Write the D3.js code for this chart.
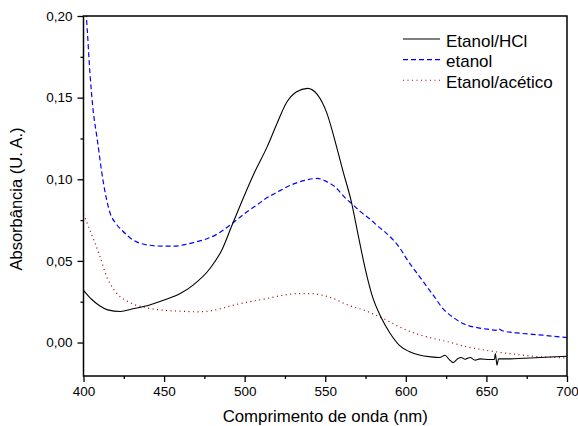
<!DOCTYPE html>
<html>
<head>
<meta charset="utf-8">
<script src="https://cdn.jsdelivr.net/npm/d3@7"></script>
<style>
  body { margin: 0; background: #fff; }
  svg text { font-family: Arial, "Liberation Sans", sans-serif; fill: #000; }
</style>
</head>
<body>
<div id="topdiv"></div>
<script>
// spectra (wavelength in nm, absorbance)
var hclWl = [400, 405, 410, 415, 423, 430, 441, 450, 460, 468, 478.6, 486, 492, 498.5, 506, 514, 520, 526, 532, 539, 545, 551, 557, 561, 566, 571, 575, 579, 585, 590, 596, 602, 609, 615, 621, 624.3, 627, 629.3, 632.4, 634.3, 636.8, 639.9, 643, 646, 652, 655, 655.5, 656.6, 657.5, 665, 683, 700];
var hclAbs = [0.032, 0.0265, 0.0225, 0.020, 0.019, 0.0205, 0.023, 0.026, 0.030, 0.0352, 0.0455, 0.057, 0.0715, 0.087, 0.104, 0.120, 0.134, 0.147, 0.1535, 0.1557, 0.152, 0.1405, 0.120, 0.105, 0.087, 0.063, 0.0443, 0.029, 0.0147, 0.006, -0.0017, -0.0055, -0.0078, -0.0087, -0.0092, -0.0078, -0.0105, -0.0123, -0.0098, -0.0092, -0.0102, -0.0092, -0.0108, -0.0100, -0.0104, -0.0104, -0.0067, -0.0139, -0.0100, -0.0100, -0.0092, -0.0084];

var etanolWl = [400, 401.7, 404, 406, 408.3, 412.4, 416.6, 420, 423.8, 431, 441, 450, 456, 463, 470, 477, 484, 491, 500, 508.6, 512, 520, 530, 538, 545, 550, 556, 563, 566.5, 572, 578, 583, 587, 592, 596.5, 600, 604, 608, 611, 617, 623, 630, 638, 645, 652, 656, 657, 660, 669, 685, 700];
var etanolAbs = [0.212, 0.200, 0.165, 0.142, 0.126, 0.0975, 0.079, 0.073, 0.0688, 0.0627, 0.0596, 0.059, 0.059, 0.060, 0.0617, 0.0637, 0.067, 0.072, 0.079, 0.085, 0.0875, 0.092, 0.097, 0.0995, 0.1005, 0.099, 0.0954, 0.088, 0.085, 0.080, 0.0754, 0.071, 0.0678, 0.063, 0.0576, 0.052, 0.0463, 0.041, 0.037, 0.029, 0.0208, 0.015, 0.0106, 0.009, 0.008, 0.0075, 0.0085, 0.0072, 0.0059, 0.0045, 0.003];

var aceticoWl = [400, 404, 410.3, 414.5, 416.6, 421.7, 426, 431, 438, 445.5, 460, 472, 482, 493, 503, 514, 524, 534, 541, 548, 555, 564, 574, 586, 596, 606, 617, 628, 638, 647, 656.5, 668, 679, 690, 700];
var aceticoAbs = [0.0786, 0.0688, 0.0525, 0.040, 0.036, 0.029, 0.026, 0.0235, 0.0215, 0.0202, 0.0192, 0.0188, 0.020, 0.0229, 0.025, 0.027, 0.029, 0.030, 0.030, 0.029, 0.027, 0.023, 0.0198, 0.0147, 0.0096, 0.0055, 0.0025, 0.0, -0.0027, -0.0043, -0.0058, -0.0072, -0.0084, -0.009, -0.0094];

var xTicks = [400, 450, 500, 550, 600, 650, 700];
var yTicks = [0.00, 0.05, 0.10, 0.15, 0.20];
var seriesNames = ["Etanol/HCl", "etanol", "Etanol/acético"];

function pairs(xs, ys) {
    return xs.map(function(d, i) { return {wl: d, abs: ys[i]}; });
}

var margin = {top: 16, right: 11, bottom: 50, left: 83.5},
    width = 578 - margin.left - margin.right,
    height = 426 - margin.top - margin.bottom;

var x = d3.scaleLinear().domain([400, 700]).range([0, width]);
var y = d3.scaleLinear().domain([-0.0205, 0.20]).range([height, 0]);

var svg = d3.select("#topdiv").append("svg")
    .attr("width", 578)
    .attr("height", 426)
  .append("g")
    .attr("transform", "translate(" + margin.left + "," + margin.top + ")");

svg.append("clipPath").attr("id", "clip")
  .append("rect").attr("width", width).attr("height", height);

var line = d3.line()
    .x(function(d) { return x(d.wl); })
    .y(function(d) { return y(d.abs); })
    .curve(d3.curveMonotoneX);

var plot = svg.append("g").attr("clip-path", "url(#clip)");

// etanol (blue dashed)
plot.append("path")
    .datum(pairs(etanolWl, etanolAbs))
    .attr("fill", "none")
    .attr("stroke", "#0000ff")
    .attr("stroke-width", 1.2)
    .attr("stroke-dasharray", "5,3")
    .attr("d", line);

// acetico (red dotted)
plot.append("path")
    .datum(pairs(aceticoWl, aceticoAbs))
    .attr("fill", "none")
    .attr("stroke", "#a00000")
    .attr("stroke-width", 1.2)
    .attr("stroke-dasharray", "1,3.5")
    .attr("d", line);

// HCl (black solid)
plot.append("path")
    .datum(pairs(hclWl, hclAbs))
    .attr("fill", "none")
    .attr("stroke", "#000")
    .attr("stroke-width", 1.1)
    .attr("d", line);

// x axis, major + minor
svg.append("g")
    .attr("transform", "translate(0," + height + ")")
    .call(d3.axisBottom(x).tickValues(xTicks).tickSize(6).tickSizeOuter(0).tickPadding(4)
        .tickFormat(d3.format("d")));
svg.append("g")
    .attr("transform", "translate(0," + height + ")")
    .call(d3.axisBottom(x).tickValues(d3.range(425, 700, 50)).tickSize(3).tickFormat(""));

// y axis, major + minor
svg.append("g")
    .call(d3.axisLeft(y).tickValues(yTicks).tickSize(6).tickSizeOuter(0).tickPadding(5)
        .tickFormat(function(d) { return d3.format(".2f")(d).replace(".", ","); }));
svg.append("g")
    .call(d3.axisLeft(y).tickValues([0.025, 0.075, 0.125, 0.175]).tickSize(3).tickFormat(""));

svg.selectAll(".domain").remove();
svg.selectAll(".tick line").attr("stroke", "#000").attr("stroke-width", 1.3);
svg.selectAll(".tick text").style("font-size", "13.5px");

// frame
svg.append("rect")
    .attr("width", width)
    .attr("height", height)
    .attr("fill", "none")
    .attr("stroke", "#000")
    .attr("stroke-width", 1.5);

// axis titles
svg.append("text")
    .attr("x", width / 2)
    .attr("y", height + 46)
    .attr("text-anchor", "middle")
    .style("font-size", "16.8px")
    .text("Comprimento de onda (nm)");

svg.append("text")
    .attr("transform", "translate(" + (-62) + "," + (height / 2 + 3) + ") rotate(-90)")
    .attr("text-anchor", "middle")
    .style("font-size", "16.5px")
    .text("Absorbância (U. A.)");

// legend
var legStyles = [
    {stroke: "#000", dash: null},
    {stroke: "#0000ff", dash: "5,3"},
    {stroke: "#a00000", dash: "1,3.5"}
];
var leg = svg.append("g").attr("transform", "translate(" + (403 - margin.left) + "," + (39 - margin.top) + ")");
seriesNames.forEach(function(name, i) {
    var row = leg.append("g").attr("transform", "translate(0," + (i * 20.6) + ")");
    row.append("line")
        .attr("x1", 0).attr("x2", 37)
        .attr("stroke", legStyles[i].stroke)
        .attr("stroke-width", 1.1)
        .attr("stroke-dasharray", legStyles[i].dash);
    row.append("text")
        .attr("x", 43)
        .attr("dy", "0.45em")
        .style("font-size", "17px")
        .text(name);
});
</script>
</body>
</html>
